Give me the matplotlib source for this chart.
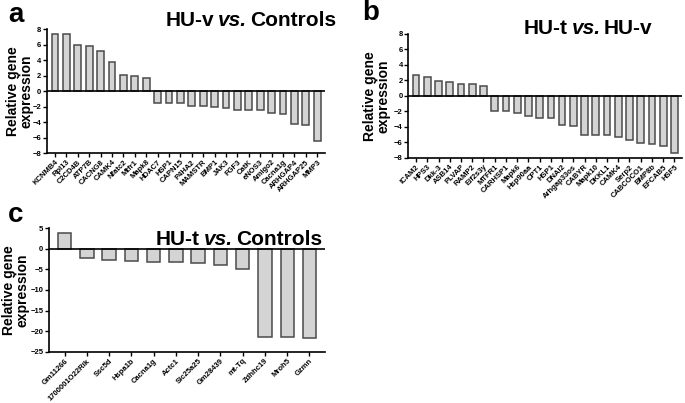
import numpy as np
import matplotlib
matplotlib.use("Agg")
import matplotlib.pyplot as plt

plt.rcParams["font.family"] = ["Liberation Sans", "DejaVu Sans"]
plt.rcParams["font.weight"] = "bold"

# Panel a: HU-v vs. Controls
genes_a = ["KCNMB4", "Rpl13", "C2CD4B", "ATP7B", "CACNG8", "CAMK4", "Nfatc2",
           "Mtfr1", "Mapk8", "HDAC7", "HSP1", "CAPN15", "P4HA2", "MAMSTR",
           "BMP1", "JAK3", "FGF3", "CatK", "eNOS3", "Amigo2", "Cacna1g",
           "ARHGAP4", "ARHGAP25", "MMP3"]
vals_a = [7.3, 7.3, 6.0, 5.8, 5.2, 3.8, 2.1, 2.0, 1.7, -1.5, -1.6, -1.6,
          -1.9, -1.9, -2.0, -2.2, -2.4, -2.5, -2.5, -2.8, -2.9, -4.2, -4.4, -6.4]

# Panel b: HU-t vs. HU-v
genes_b = ["ICAM2", "HPS3", "Dkk-3", "ASB14", "PLVAP", "RAMP2", "Eif2s3y",
           "MTFR1", "CARHSP1", "Mapk6", "Hsp90aa", "CPT1", "HSP1", "DNAI2",
           "Arhgap33os", "CABYR", "Mapk10", "DKKL1", "CAMK4", "Serp2",
           "CABCOCO1", "BMP8b", "EFCAB5", "HSF5"]
vals_b = [2.7, 2.5, 1.9, 1.8, 1.5, 1.5, 1.3, -1.9, -2.0, -2.2, -2.6, -2.8,
          -2.9, -3.8, -3.9, -5.1, -5.1, -5.1, -5.3, -5.7, -6.1, -6.2, -6.5, -7.3]

# Panel c: HU-t vs. Controls
genes_c = ["Gm11266", "1700001O22Rik", "Ssc5d", "Hspa1b", "Cacna1g", "Actc1",
           "Slc25a25", "Gm28439", "mt-Tq", "Zdhhc19", "Mroh5", "Gzmn"]
vals_c = [3.9, -2.3, -2.8, -3.0, -3.1, -3.3, -3.5, -3.9, -4.8, -21.3, -21.3, -21.6]

fig = plt.figure(figsize=(6.85, 4.03), dpi=100)


def bar_panel(rect, genes, vals, ylim, step, label_x):
    ax = fig.add_axes(rect)
    x = np.arange(len(genes))
    ax.bar(x, vals, width=0.6, color="#d4d4d4", edgecolor="#4a4a4a", linewidth=1.1, zorder=2)
    ax.axhline(0, color="black", linewidth=1.2, zorder=3)
    ax.set_ylim(*ylim)
    ax.set_xlim(-0.7, len(genes) - 0.3)
    ax.set_yticks(np.arange(ylim[0], ylim[1] + 1, step))
    ax.set_xticks(x)
    ax.set_xticklabels(genes, rotation=45, ha="right", rotation_mode="anchor",
                       fontsize=5.5, fontweight="bold")
    ax.tick_params(axis="y", labelsize=5.5, length=3, width=1, pad=1)
    ax.tick_params(axis="x", length=3, width=1, pad=1)
    for lab in ax.get_yticklabels():
        lab.set_fontweight("bold")
    for s in ["top", "right"]:
        ax.spines[s].set_visible(False)
    for s in ["left", "bottom"]:
        ax.spines[s].set_linewidth(1.2)
    ax.set_ylabel("Relative gene\nexpression", fontsize=10, fontweight="bold",
                  linespacing=0.95)
    ax.yaxis.set_label_coords(label_x, 0.5)
    return ax


ax_a = bar_panel([0.0686, 0.620, 0.406, 0.308], genes_a, vals_a, (-8, 8), 2, -0.05)
ax_b = bar_panel([0.596, 0.608, 0.400, 0.308], genes_b, vals_b, (-8, 8), 2, -0.066)
ax_c = bar_panel([0.0715, 0.127, 0.403, 0.307], genes_c, vals_c, (-25, 5), 5, -0.069)


def title(x, y, left, right, fs=15):
    t1 = fig.text(x, y, left, fontsize=fs, fontweight="bold", va="baseline")
    t2 = plt.annotate("vs.", xy=(1, 0), xycoords=t1, xytext=(2.5, 0), textcoords="offset points",
                      fontsize=fs, fontweight="bold", style="italic", va="bottom")
    plt.annotate(right, xy=(1, 0), xycoords=t2, xytext=(2.5, 0), textcoords="offset points",
                 fontsize=fs, fontweight="bold", va="bottom")


title(166 / 685, 1 - 26 / 403, "HU-v", "Controls")
title(524 / 685, 1 - 34 / 403, "HU-t", "HU-v")
title(156 / 685, 1 - 245 / 403, "HU-t", "Controls")

fig.text(8 / 685, 1 - 22 / 403, "a", fontsize=20, fontweight="bold")
fig.text(362 / 685, 1 - 20 / 403, "b", fontsize=20, fontweight="bold")
fig.text(8 / 685, 1 - 222 / 403, "c", fontsize=20, fontweight="bold")

fig.savefig("out.png", dpi=100)
